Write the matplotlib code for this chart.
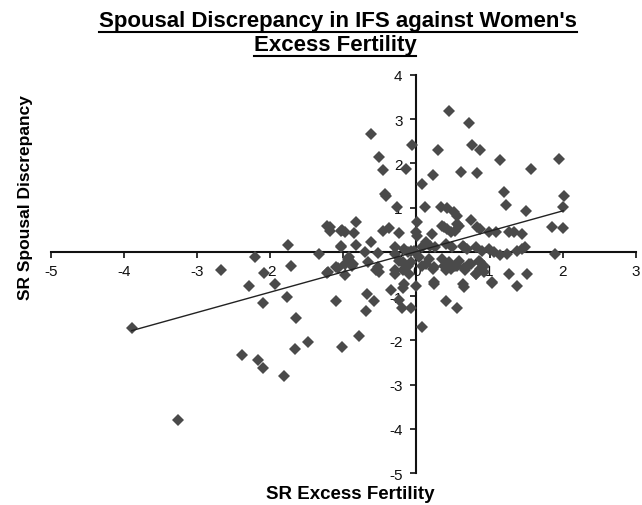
import numpy as np
import matplotlib
matplotlib.use("Agg")
import matplotlib.pyplot as plt
from matplotlib.lines import Line2D

plt.rcParams['font.family'] = ['Liberation Sans', 'DejaVu Sans']
plt.rcParams['axes.unicode_minus'] = False

# SR excess fertility (x) vs SR spousal discrepancy (y)
excess_fertility = [
    -3.90, -3.27, -2.68, -2.21, -2.09, -2.29, -1.94, -2.10, -1.76, -1.72,
    -1.78, -1.65, -1.66, -1.49, -2.39, -2.17, -2.10, -1.82, -1.34, -1.23,
    -1.19, -1.23, -1.03, -1.03, -1.08, -0.98, -1.10, -1.02, -1.21,
    -0.68, -0.58, -0.69, -0.79, -0.35, -0.18, -0.24, -0.20, -0.08, 0.07,
    0.24, 0.40, 0.56, 0.65, 1.04, 1.27, 1.37, 1.51, 0.81, 1.90,
    -0.92, -0.89, -0.67, -0.55, -0.51, -0.30, -0.19, -0.12, 0.13, 0.24,
    0.38, 0.47, 0.56, 0.65, 0.74, 0.87, 0.92,
    -0.62, -0.51, -0.46, -0.43, -0.27, -0.06, -0.15, 0.08, 0.12, 0.23,
    0.30, 0.44, 0.34, 0.42, 0.51, 0.56, 0.61, 0.72, 0.76, 0.87,
    0.83, 0.74, 1.14, 1.20, 1.22, 1.57, 1.50, 1.95, 2.02, 2.00,
    1.86, 2.00, -0.42,
    -1.02, -0.85, -0.83, -0.62, -0.46, -0.37, -0.24, 0.01, 0.00, 0.21,
    0.35, 0.42, 0.47, 0.56, 0.83, 1.09, 1.26, 1.33, 1.44, -1.03,
    -0.83, -0.98, 0.01, 0.38, 0.53, 0.58, 0.87, 0.99, -1.19,
    0.13, 0.19, 0.08, 0.26, 0.40, 0.49, 0.63, 0.69, 0.81, 0.90,
    0.99, 1.06, 0.65, 1.24, 1.37, 1.49, 1.44, 1.15, -0.71, -0.53,
    -0.30, -0.12, -0.03, -0.94, -0.87, -0.53, -1.10, -0.24, -0.17, -0.08,
    -0.19, -0.10, -0.30, -0.17, -0.01, -0.98,
    0.04, 0.17, 0.35, 0.44, 0.58, 0.72, 0.85, 0.92, 0.08, 0.22,
    0.40, 0.53, 0.67, 0.81, 0.87, 1.03, 0.24, 0.63, -0.30, -0.17,
    -0.08,
]
spousal_discrepancy = [
    -1.72, -3.79, -0.40, -0.12, -0.48, -0.77, -0.73, -1.16, 0.16, -0.31,
    -1.02, -1.50, -2.20, -2.04, -2.33, -2.45, -2.63, -2.81, -0.05, 0.58,
    0.48, -0.48, 0.48, 0.13, -0.37, -0.27, -1.12, -2.15, -0.46,
    -0.96, -1.12, -1.34, -1.90, -0.87, -0.82, -1.08, -1.26, -1.27, -1.69,
    -0.72, -1.10, -1.27, -0.80, -0.70, -0.51, -0.76, -0.50, -0.51, -0.05,
    -0.12, -0.31, -0.23, -0.42, -0.46, -0.42, -0.23, -0.31, -0.27, -0.35,
    -0.31, -0.38, -0.31, -0.37, -0.27, -0.23, -0.46,
    2.66, 2.14, 1.86, 1.31, 1.02, 2.42, 1.87, 1.53, 1.02, 1.74,
    2.31, 3.18, 1.02, 0.99, 0.90, 0.82, 1.80, 2.91, 2.42, 2.31,
    1.78, 0.72, 2.08, 1.36, 1.07, 1.87, 0.92, 2.11, 1.27, 1.02,
    0.56, 0.53, 1.27,
    0.50, 0.43, 0.67, 0.23, 0.48, 0.54, 0.42, 0.67, 0.46, 0.41,
    0.59, 0.52, 0.44, 0.63, 0.56, 0.46, 0.44, 0.44, 0.41, 0.11,
    0.16, 0.44, 0.37, 0.56, 0.48, 0.59, 0.52, 0.44, 0.56,
    0.22, 0.14, 0.11, 0.11, 0.18, 0.11, 0.14, 0.07, 0.11, 0.03,
    0.07, -0.01, 0.11, -0.05, 0.03, 0.11, 0.07, -0.08, 0.00, -0.03,
    -0.05, 0.00, 0.03, -0.16, -0.27, -0.35, -0.35, -0.20, -0.27, -0.23,
    -0.42, -0.50, -0.50, -0.72, -0.76, -0.53,
    -0.12, -0.16, -0.16, -0.23, -0.20, -0.27, -0.20, -0.31, -0.31, -0.38,
    -0.42, -0.31, -0.42, -0.50, -0.38, -0.68, -0.68, -0.72, 0.11, 0.07,
    0.03,
]

# linear trendline end points
trend_x = [-3.90, 2.01]
trend_y = [-1.78, 0.93]

x_ticks = [-5, -4, -3, -2, -1, 0, 1, 2, 3]
y_ticks = [-5, -4, -3, -2, -1, 0, 1, 2, 3, 4]

fig = plt.figure(figsize=(6.42, 5.06), dpi=100)
ax = fig.add_axes([0.080, 0.063, 0.910, 0.787])

ax.plot(excess_fertility, spousal_discrepancy, linestyle='none', marker='D',
        markersize=6, color='#4a4a4a', markeredgewidth=0, zorder=3)
ax.plot(trend_x, trend_y, color='#222222', linewidth=1.0, zorder=4)

ax.set_xlim(-5, 3)
ax.set_ylim(-5, 4)
ax.set_xticks(x_ticks)
ax.set_yticks(y_ticks)

# axes cross at the origin
ax.spines['left'].set_position(('data', 0))
ax.spines['bottom'].set_position(('data', 0))
ax.spines['right'].set_visible(False)
ax.spines['top'].set_visible(False)
for s in ('left', 'bottom'):
    ax.spines[s].set_linewidth(1.5)
    ax.spines[s].set_color('#111111')
    ax.spines[s].set_zorder(2)
ax.tick_params(direction='out', length=4, width=1.2, labelsize=11,
               colors='#111111')
ax.tick_params(axis='x', pad=5)
ax.tick_params(axis='y', pad=6)
ax.patch.set_visible(False)

fig.text(0.545, 0.013, 'SR Excess Fertility', fontsize=13.5,
         fontweight='bold', ha='center', va='baseline')
fig.text(0.039, 0.61, 'SR Spousal Discrepancy', rotation=90, fontsize=12.5,
         fontweight='bold', ha='center', va='center')

# two-line underlined title
t1 = fig.text(0.527, 0.947, "Spousal Discrepancy in IFS against Women's",
              fontsize=16, fontweight='bold', ha='center', va='baseline')
t2 = fig.text(0.522, 0.899, 'Excess Fertility',
              fontsize=16, fontweight='bold', ha='center', va='baseline')

fig.canvas.draw()
renderer = fig.canvas.get_renderer()
inv = fig.transFigure.inverted()
for t in (t1, t2):
    bb = t.get_window_extent(renderer).transformed(inv)
    fig.add_artist(Line2D([bb.x0, bb.x1], [bb.y0 - 0.002, bb.y0 - 0.002],
                          transform=fig.transFigure, color='black', linewidth=1.5))

fig.savefig('out.png', dpi=100)
